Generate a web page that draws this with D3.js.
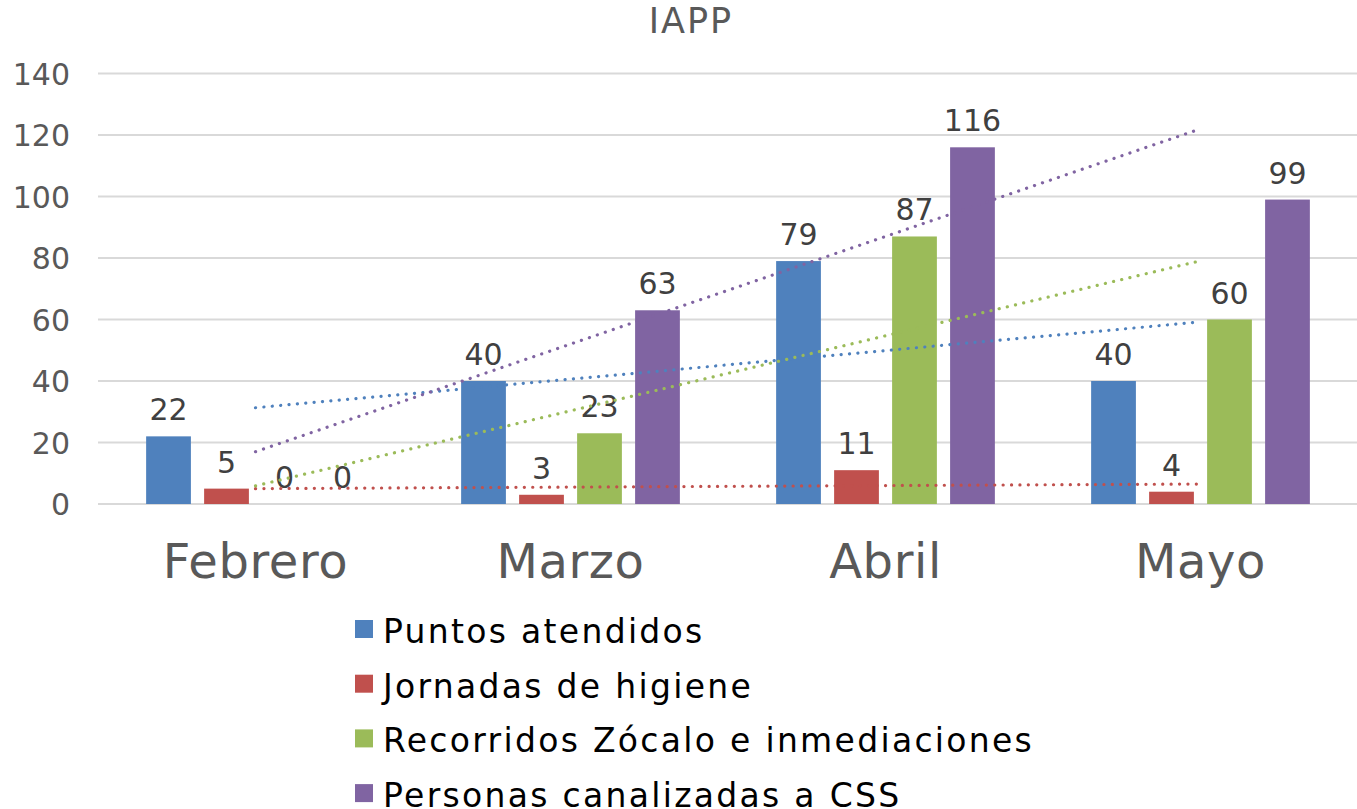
<!DOCTYPE html>
<html><head><meta charset="utf-8">
<script src="https://cdn.jsdelivr.net/npm/d3@7"></script>
<style>body{margin:0;background:#fff}svg{display:block}</style>
</head><body>
<svg id="c" width="1357" height="809"></svg>
<script>
const categories = ["Febrero", "Marzo", "Abril", "Mayo"];
const seriesNames = ["Puntos atendidos", "Jornadas de higiene", "Recorridos Zócalo e inmediaciones", "Personas canalizadas a CSS"];
const puntos = [22, 40, 79, 40];
const jornadas = [5, 3, 11, 4];
const recorridos = [0, 23, 87, 60];
const personas = [0, 63, 116, 99];
const colors = ["#4f81bd", "#c0504d", "#9bbb59", "#8064a2"];
const yTicks = [0, 20, 40, 60, 80, 100, 120, 140];
const title = "IAPP";

const series = [puntos, jornadas, recorridos, personas];
const FONT = "'DejaVu Sans', sans-serif";
const svg = d3.select("#c");
const x = d3.scaleBand().domain(categories).range([98, 1358]);
const xs = d3.scaleBand().domain(d3.range(4)).range([0, x.bandwidth()]).paddingInner(0.228).paddingOuter(0.83);
const y = d3.scaleLinear().domain([0, 140]).range([504, 73.5]);

svg.append("text").attr("x", 691).attr("y", 33).attr("text-anchor", "middle")
  .attr("font-family", FONT).attr("font-size", 35).attr("letter-spacing", 2).attr("fill", "#595959").text(title);

// grid
svg.append("g").selectAll("line").data(yTicks).join("line")
  .attr("x1", 98).attr("x2", 1357).attr("y1", d => y(d)).attr("y2", d => y(d))
  .attr("stroke", "#d9d9d9").attr("stroke-width", 2);

// y axis labels
const yAxis = d3.axisLeft(y).tickValues(yTicks).tickSize(0).tickPadding(0);
const ga = svg.append("g").attr("transform", "translate(70,0)").call(yAxis);
ga.select(".domain").remove();
ga.selectAll("text").attr("font-family", FONT).attr("font-size", 30).attr("fill", "#595959").attr("dy", "0.36em");

// x axis labels
const xAxis = d3.axisBottom(x).tickSize(0).tickPadding(0);
const gx = svg.append("g").attr("transform", "translate(0,578)").call(xAxis);
gx.select(".domain").remove();
gx.selectAll("text").attr("font-family", FONT).attr("font-size", 48).attr("letter-spacing", 0.6).attr("fill", "#595959").attr("dy", 0);

// bars
series.forEach((vals, si) => {
  const g = svg.append("g");
  g.selectAll("rect").data(vals).join("rect")
    .attr("x", (d, i) => x(categories[i]) + xs(si))
    .attr("width", xs.bandwidth())
    .attr("y", d => y(d)).attr("height", d => y(0) - y(d))
    .attr("fill", colors[si]);
  g.selectAll("text").data(vals).join("text")
    .attr("x", (d, i) => x(categories[i]) + xs(si) + xs.bandwidth() / 2)
    .attr("y", d => y(d) - 16)
    .attr("text-anchor", "middle").attr("font-family", FONT).attr("font-size", 30).attr("fill", "#404040")
    .text(d => d);
});

// trendlines (linear regression)
series.forEach((vals, si) => {
  const n = vals.length, mx = (n - 1) / 2, my = d3.mean(vals);
  let sxy = 0, sxx = 0;
  vals.forEach((v, i) => { sxy += (i - mx) * (v - my); sxx += (i - mx) ** 2; });
  const slope = sxy / sxx, b = my - slope * mx;
  const pts = [0, n - 1].map(i => [x(categories[i]) + x.bandwidth() / 2, y(b + slope * i)]);
  svg.append("path").attr("d", d3.line()(pts)).attr("fill", "none")
    .attr("stroke", colors[si]).attr("stroke-width", 3.2).attr("stroke-linecap", "round")
    .attr("stroke-dasharray", "0.1 8.3");
});

// legend
const lg = svg.append("g").selectAll("g").data(seriesNames).join("g")
  .attr("transform", (d, i) => `translate(355,${620 + i * 54.7})`);
lg.append("rect").attr("width", 18).attr("height", 18).attr("fill", (d, i) => colors[i]);
lg.append("text").attr("x", 28).attr("y", 23).attr("font-family", FONT).attr("font-size", 33)
  .attr("letter-spacing", 2.3).attr("fill", "#000").text(d => d);
</script>
</body></html>
